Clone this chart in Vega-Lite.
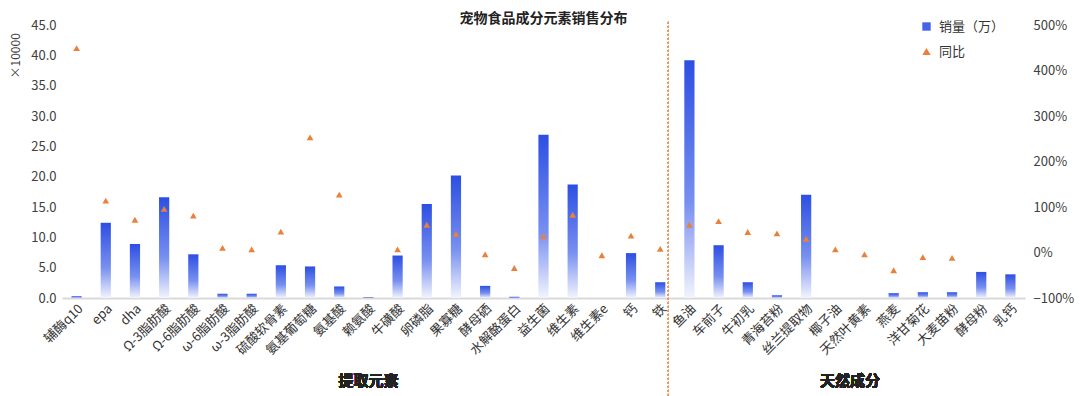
{
  "$schema": "https://vega.github.io/schema/vega-lite/v6.json",
  "width": 963,
  "height": 273,
  "autosize": "none",
  "padding": {"left": 62, "top": 25, "right": 55, "bottom": 98},
  "background": "white",
  "config": {
    "font": "Noto Sans CJK SC",
    "view": {"stroke": null},
    "axis": {"labelFont": "Noto Sans CJK SC", "titleFont": "Noto Sans CJK SC", "labelColor": "#404040", "titleColor": "#404040", "grid": false}
  },
  "title": {"text": "宠物食品成分元素销售分布", "fontSize": 14, "fontWeight": "bold", "color": "#222222", "anchor": "middle", "offset": -7},
  "data": {"values": [
    {"cat": "辅酶q10", "sales": 0.3, "yoy": 4.49},
    {"cat": "epa", "sales": 12.4, "yoy": 1.14},
    {"cat": "dha", "sales": 8.9, "yoy": 0.72},
    {"cat": "Ω-3脂肪酸", "sales": 16.6, "yoy": 0.96},
    {"cat": "Ω-6脂肪酸", "sales": 7.2, "yoy": 0.81},
    {"cat": "ω-6脂肪酸", "sales": 0.7, "yoy": 0.10},
    {"cat": "ω-3脂肪酸", "sales": 0.7, "yoy": 0.07},
    {"cat": "硫酸软骨素", "sales": 5.4, "yoy": 0.46},
    {"cat": "氨基葡萄糖", "sales": 5.2, "yoy": 2.53},
    {"cat": "氨基酸", "sales": 1.9, "yoy": 1.27},
    {"cat": "赖氨酸", "sales": 0.1, "yoy": null},
    {"cat": "牛磺酸", "sales": 7.0, "yoy": 0.07},
    {"cat": "卵磷脂", "sales": 15.5, "yoy": 0.61},
    {"cat": "果寡糖", "sales": 20.2, "yoy": 0.41},
    {"cat": "酵母硒", "sales": 2.0, "yoy": -0.04},
    {"cat": "水解酪蛋白", "sales": 0.2, "yoy": -0.34},
    {"cat": "益生菌", "sales": 26.9, "yoy": 0.36},
    {"cat": "维生素", "sales": 18.7, "yoy": 0.83},
    {"cat": "维生素e", "sales": 0, "yoy": -0.06},
    {"cat": "钙", "sales": 7.4, "yoy": 0.37},
    {"cat": "铁", "sales": 2.6, "yoy": 0.08},
    {"cat": "鱼油", "sales": 39.2, "yoy": 0.61},
    {"cat": "车前子", "sales": 8.7, "yoy": 0.69},
    {"cat": "牛初乳", "sales": 2.6, "yoy": 0.45},
    {"cat": "青海苔粉", "sales": 0.45, "yoy": 0.42},
    {"cat": "丝兰提取物", "sales": 17.0, "yoy": 0.30},
    {"cat": "椰子油", "sales": 0, "yoy": 0.07},
    {"cat": "天然叶黄素", "sales": 0, "yoy": -0.04},
    {"cat": "燕麦", "sales": 0.8, "yoy": -0.39},
    {"cat": "洋甘菊花", "sales": 0.95, "yoy": -0.10},
    {"cat": "大麦苗粉", "sales": 0.95, "yoy": -0.12},
    {"cat": "酵母粉", "sales": 4.3, "yoy": null},
    {"cat": "乳钙", "sales": 3.9, "yoy": null}
  ]},
  "encoding": {
    "x": {"field": "cat", "type": "nominal", "sort": null,
      "scale": {"paddingInner": 0.65},
      "axis": {"title": null, "labelAngle": -45, "labelFontSize": 13, "labelColor": "#333333", "ticks": false, "labelPadding": 4, "domainColor": "#d9d9d9", "domainWidth": 2}}
  },
  "layer": [
    {
      "mark": {"type": "bar", "fill": {"gradient": "linear", "x1": 0, "y1": 0, "x2": 0, "y2": 1,
        "stops": [{"offset": 0, "color": "#2d4ee3"}, {"offset": 0.6, "color": "#7890f0"}, {"offset": 1, "color": "#f2f4fd"}]}},
      "encoding": {
        "y": {"field": "sales", "type": "quantitative",
          "scale": {"domain": [0, 45]},
          "axis": {"values": [0, 5, 10, 15, 20, 25, 30, 35, 40, 45], "format": ".1f", "domain": false, "ticks": false, "labelFontSize": 13, "labelPadding": 6,
            "title": "×10000", "titleFontSize": 12, "titleFontWeight": "normal", "titleAnchor": null, "titleY": 53, "titleAlign": "left", "titlePadding": 8}}
      }
    },
    {
      "mark": {"type": "rule", "color": "#e89a6a", "strokeDash": [2, 2], "strokeWidth": 1, "xOffset": -21},
      "encoding": {
        "x": {"datum": "鱼油"},
        "y": {"datum": 45.5, "scale": {"domain": [0, 45]}, "axis": null},
        "y2": {"datum": -16.5}
      }
    },
    {
      "mark": {"type": "text", "fontSize": 15, "fontWeight": "bold", "color": "#222222"},
      "encoding": {
        "x": {"datum": "赖氨酸"},
        "y": {"datum": -13.7, "scale": {"domain": [0, 45]}, "axis": null},
        "text": {"value": "提取元素"}
      }
    },
    {
      "mark": {"type": "text", "fontSize": 15, "fontWeight": "bold", "color": "#222222", "xOffset": 14.6},
      "encoding": {
        "x": {"datum": "椰子油"},
        "y": {"datum": -13.7, "scale": {"domain": [0, 45]}, "axis": null},
        "text": {"value": "天然成分"}
      }
    },
    {
      "mark": {"type": "point", "filled": true, "size": 45, "opacity": 1},
      "encoding": {
        "y": {"field": "yoy", "type": "quantitative",
          "scale": {"domain": [-1, 5]},
          "axis": {"orient": "right", "values": [-1, 0, 1, 2, 3, 4, 5], "format": ".0%", "domain": false, "ticks": false, "labelFontSize": 13, "labelPadding": 8, "title": null}},
        "color": {"datum": "同比", "type": "nominal",
          "scale": {"domain": ["销量（万）", "同比"], "range": ["#4563e6", "#e8823a"]},
          "legend": {"title": null, "orient": "none", "legendX": 858, "legendY": -5, "labelFontSize": 13, "labelColor": "#333333", "symbolSize": 70, "rowPadding": 11, "labelOffset": 6}},
        "shape": {"datum": "同比", "type": "nominal",
          "scale": {"domain": ["销量（万）", "同比"], "range": ["square", "triangle-up"]}}
      }
    }
  ],
  "resolve": {"scale": {"y": "independent"}}
}
